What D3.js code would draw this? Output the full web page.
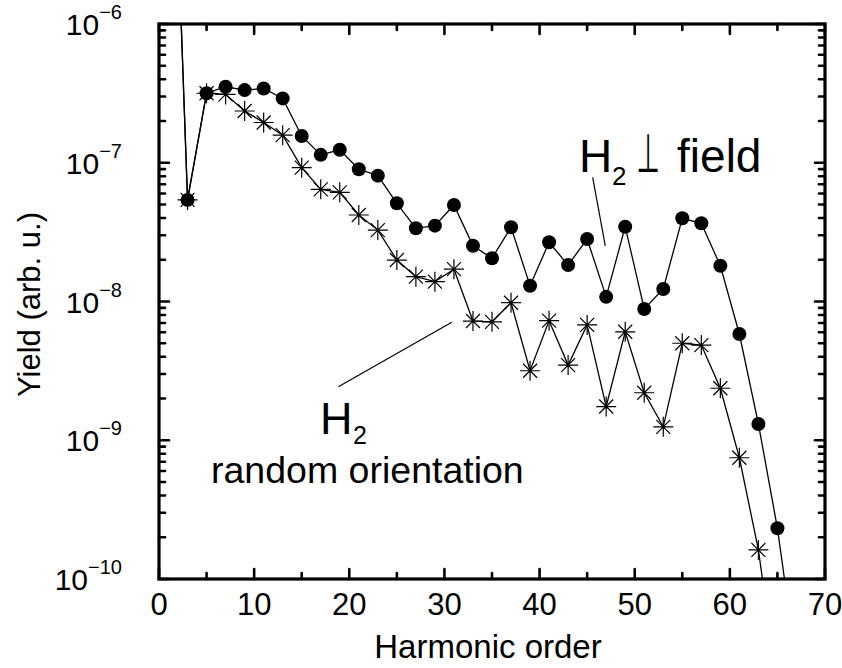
<!DOCTYPE html>
<html><head><meta charset="utf-8">
<script src="https://cdn.jsdelivr.net/npm/d3@7"></script>
<style>body{margin:0;background:#fff}svg{display:block}text{font-family:"Liberation Sans",Arial,sans-serif;fill:#000}</style>
</head><body><svg id="c" width="842" height="668"></svg>
<script>
// ---- data ----
const harmonics = [1,3,5,7,9,11,13,15,17,19,21,23,25,27,29,31,33,35,37,39,41,43,45,47,49,51,53,55,57,59,61,63,65,67];
const perpField = [3.5e-4,5.4e-8,3.17e-7,3.53e-7,3.34e-7,3.43e-7,2.91e-7,1.56e-7,1.14e-7,1.24e-7,8.97e-8,8.07e-8,5.1e-8,3.37e-8,3.52e-8,4.96e-8,2.52e-8,2.05e-8,3.43e-8,1.30e-8,2.67e-8,1.83e-8,2.82e-8,1.08e-8,3.46e-8,8.83e-9,1.23e-8,3.98e-8,3.66e-8,1.81e-8,5.83e-9,1.31e-9,2.32e-10,2.4e-11];
const randomOrient = [3.5e-4,5.4e-8,3.17e-7,3.11e-7,2.36e-7,1.95e-7,1.58e-7,9.22e-8,6.43e-8,6.12e-8,4.2e-8,3.27e-8,1.99e-8,1.51e-8,1.39e-8,1.71e-8,7.23e-9,7.14e-9,9.8e-9,3.17e-9,7.28e-9,3.48e-9,6.78e-9,1.75e-9,6.05e-9,2.2e-9,1.25e-9,5.0e-9,4.85e-9,2.37e-9,7.48e-10,1.62e-10,1.7e-11,null];
const xTickLabels = [0,10,20,30,40,50,60,70];
const yTickExponents = [-6,-7,-8,-9,-10];
const xTitle = "Harmonic order";
const yTitle = "Yield (arb. u.)";

// ---- layout ----
const L = 159, R = 825, T = 24, B = 579;
const svg = d3.select("#c");
const x = d3.scaleLinear().domain([0,70]).range([L,R]);
const y = d3.scaleLog().domain([1e-10,1e-6]).range([B,T]);

svg.append("defs").append("clipPath").attr("id","clip")
  .append("rect").attr("x",L).attr("y",T).attr("width",R-L).attr("height",B-T);

const plot = svg.append("g").attr("clip-path","url(#clip)");

function seriesPts(vals){ return harmonics.map((h,i)=>({h, v: vals[i]})).filter(d=>d.v!=null); }
const line = d3.line().x(d=>x(d.h)).y(d=>y(d.v));

const pf = seriesPts(perpField), ro = seriesPts(randomOrient);
plot.append("path").datum(ro).attr("d",line).attr("fill","none").attr("stroke","#000").attr("stroke-width",1.3);
plot.append("path").datum(pf).attr("d",line).attr("fill","none").attr("stroke","#000").attr("stroke-width",1.3);

plot.selectAll("circle.pf").data(pf.filter(d=>d.h>1)).join("circle")
  .attr("class","pf").attr("cx",d=>x(d.h)).attr("cy",d=>y(d.v)).attr("r",7).attr("fill","#000");

const starPath = "M-10,0H10M0,-10V10M-7,-7L7,7M-7,7L7,-7";
plot.selectAll("path.ro").data(ro.filter(d=>d.h>1)).join("path")
  .attr("class","ro").attr("transform",d=>`translate(${x(d.h)},${y(d.v)})`)
  .attr("d",starPath).attr("stroke","#000").attr("stroke-width",1.2).attr("fill","none");

// ---- frame & ticks ----
const ax = svg.append("g").attr("stroke","#000").attr("stroke-linecap","round");
d3.range(0,71,5).forEach(v=>{
  const len = v%10===0 ? 10 : 6;
  ax.append("line").attr("x1",x(v)).attr("x2",x(v)).attr("y1",B).attr("y2",B-len).attr("stroke-width",2.6);
  ax.append("line").attr("x1",x(v)).attr("x2",x(v)).attr("y1",T).attr("y2",T+len).attr("stroke-width",2.6);
});
yTickExponents.forEach(e=>{
  const base = Math.pow(10,e);
  for(let k=1;k<=9;k++){
    const v = base*k;
    if (v>1.0001e-6) continue;
    const len = k===1 ? 10 : 6;
    ax.append("line").attr("x1",L).attr("x2",L+len).attr("y1",y(v)).attr("y2",y(v)).attr("stroke-width",2.6);
    ax.append("line").attr("x1",R).attr("x2",R-len).attr("y1",y(v)).attr("y2",y(v)).attr("stroke-width",2.6);
  }
});
ax.append("rect").attr("x",L).attr("y",T).attr("width",R-L).attr("height",B-T)
  .attr("fill","none").attr("stroke-width",3.2);

// ---- tick labels ----
svg.selectAll("text.xt").data(xTickLabels).join("text").attr("class","xt")
  .attr("x",d=>x(d)).attr("y",B+36).attr("text-anchor","middle").attr("font-size",31).text(d=>d);

yTickExponents.forEach(e=>{
  const t = svg.append("text").attr("x",122).attr("y",y(Math.pow(10,e))+11).attr("text-anchor","end").attr("font-size",30);
  t.append("tspan").text("10");
  t.append("tspan").attr("dy",-16).attr("font-size",20).text("\u2212"+Math.abs(e));
});

// ---- axis titles ----
svg.append("text").attr("x",(L+R)/2-4).attr("y",658).attr("text-anchor","middle").attr("font-size",33).text(xTitle);
svg.append("text").attr("transform",`translate(40,${(T+B)/2+3}) rotate(-90)`).attr("text-anchor","middle").attr("font-size",31).text(yTitle);

// ---- annotations ----
const ann = svg.append("g");
// H2 perpendicular field
const ax1 = x(44.15), ay1 = y(8.57e-8);
ann.append("text").attr("x",ax1).attr("y",ay1).attr("font-size",46).text("H");
ann.append("text").attr("x",ax1+33).attr("y",ay1+13).attr("font-size",26).text("2");
ann.append("text").attr("transform",`translate(${ax1+69},${ay1}) scale(0.75,1.5)`).attr("font-size",36)
  .attr("style","font-family:'DejaVu Sans'").attr("text-anchor","middle").text("\u22A5");
ann.append("text").attr("x",ax1+98).attr("y",ay1).attr("font-size",46).text("field");
ann.append("line").attr("x1",x(45.58)).attr("y1",y(7.85e-8)).attr("x2",x(46.91)).attr("y2",y(2.52e-8)).attr("stroke","#000").attr("stroke-width",1.2);
// H2 random orientation
const bx = x(16.92), by = y(1.11e-9);
ann.append("text").attr("x",bx).attr("y",by).attr("font-size",45).text("H");
ann.append("text").attr("x",bx+33).attr("y",by+10).attr("font-size",25).text("2");
ann.append("text").attr("x",x(5.47)).attr("y",y(5.16e-10)+3).attr("font-size",37.5).text("random orientation");
ann.append("line").attr("x1",x(18.85)).attr("y1",y(2.43e-9)).attr("x2",x(30.77)).attr("y2",y(7.08e-9)).attr("stroke","#000").attr("stroke-width",1.2);
</script></body></html>
